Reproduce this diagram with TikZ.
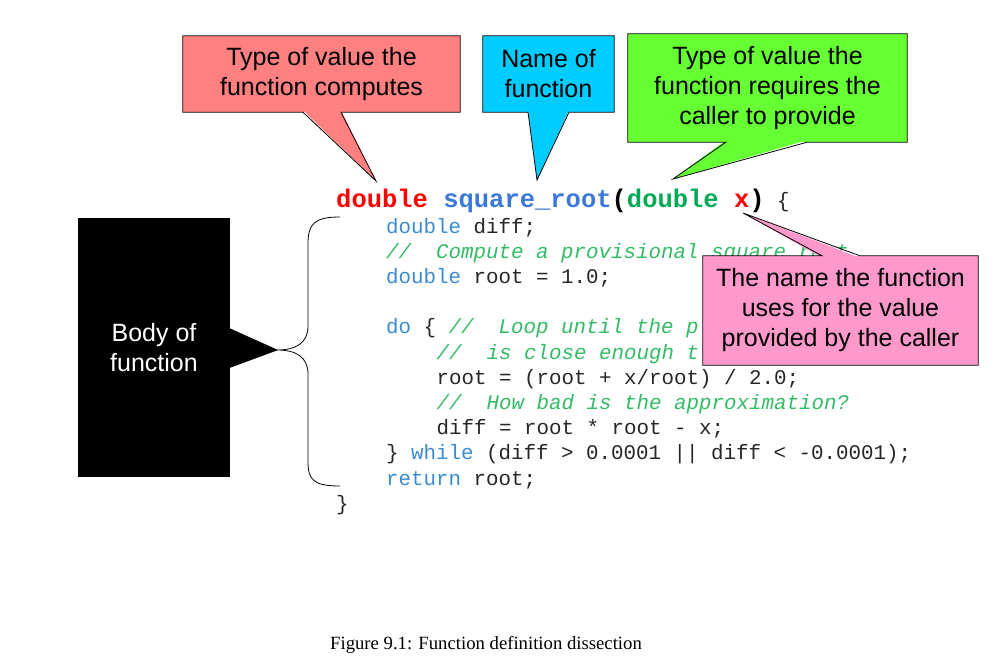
\documentclass[tikz,border=0pt]{standalone}
\usepackage{fontspec}
\setmainfont{Liberation Sans}
\newfontfamily\codefont{Liberation Mono}
\newfontfamily\capfont{Liberation Serif}
\usetikzlibrary{calc}

\definecolor{retred}{HTML}{FF8080}
\definecolor{nameblue}{HTML}{00CCFF}
\definecolor{parmgreen}{HTML}{66FF33}
\definecolor{argpink}{HTML}{FF99CC}
\definecolor{kwblue}{HTML}{3A8BD0}
\definecolor{fnblue}{HTML}{3C78D8}
\definecolor{cmtgreen}{HTML}{33BB66}
\definecolor{typegreen}{HTML}{00AA55}
\definecolor{hdred}{HTML}{FF0000}
\definecolor{idgray}{HTML}{262626}

\newcommand{\kw}[1]{\textcolor{kwblue}{#1}}
\newcommand{\cmt}[1]{\textcolor{cmtgreen}{\itshape #1}}

\begin{document}
\begin{tikzpicture}[
    x=1pt, y=-1pt,
    callbox/.style={rectangle, inner sep=0pt, align=center, font=\fontsize{25}{30}\selectfont},
    tailline/.style={draw=black, line width=0.8pt, line join=miter},
    braceline/.style={draw=black, line width=0.8pt},
    codeline/.style={anchor=base west, inner sep=0pt, text=idgray, font=\codefont\fontsize{20.83}{25}\selectfont}
]
    \useasboundingbox (0,0) rectangle (1008,669);

    % the code
    \node[codeline, font=\codefont\bfseries\fontsize{25.5}{30}\selectfont] (header) at (336,207) {\textcolor{hdred}{double} \textcolor{fnblue}{square\_root}\textcolor{black}{(}\textcolor{typegreen}{double} \textcolor{hdred}{x}\textcolor{black}{)}{\mdseries\fontsize{20.83}{25}\selectfont\ \{}};
    \node[codeline] (l1) at (386,233) {\kw{double} diff;};
    \node[codeline] (l2) at (386,258) {\cmt{//\ \ Compute a provisional square root}};
    \node[codeline] (l3) at (386,283) {\kw{double} root = 1.0;};
    \node[codeline] (l4) at (386,333) {\kw{do} \{ \cmt{//\ \ Loop until the p}};
    \node[codeline] (l5) at (436.5,359) {\cmt{//\ \ is close enough t}};
    \node[codeline] (l6) at (436.5,384) {root = (root + x/root) / 2.0;};
    \node[codeline] (l7) at (436.5,409) {\cmt{//\ \ How bad is the approximation?}};
    \node[codeline] (l8) at (436.5,434) {diff = root * root - x;};
    \node[codeline] (l9) at (386,459) {\} \kw{while} (diff > 0.0001 || diff < -0.0001);};
    \node[codeline] (l10) at (386,485) {\kw{return} root;};
    \node[codeline] (l11) at (336,510) {\}};

    % callouts
    \node[callbox, fill=retred, minimum width=277pt, minimum height=76pt] (rettype) at (321.5,74) {Type of value the\\function computes};
    \coordinate (rettip) at (376,181);
    \fill[retred] ($(rettype.south west)!0.433!(rettype.south east)+(0,-2)$) -- (rettip) -- ($(rettype.south west)!0.570!(rettype.south east)+(0,-2)$) -- cycle;
    \draw[tailline] (rettype.south west) -- ($(rettype.south west)!0.433!(rettype.south east)$) -- (rettip) -- ($(rettype.south west)!0.570!(rettype.south east)$) -- (rettype.south east) -- (rettype.north east) -- (rettype.north west) -- cycle;

    \node[callbox, fill=nameblue, minimum width=131pt, minimum height=76pt] (fnname) at (548.5,74) {Name of\\function};
    \coordinate (fntip) at (537,180);
    \fill[nameblue] ($(fnname.south west)!0.344!(fnname.south east)+(0,-2)$) -- (fntip) -- ($(fnname.south west)!0.656!(fnname.south east)+(0,-2)$) -- cycle;
    \draw[tailline] (fnname.south west) -- ($(fnname.south west)!0.344!(fnname.south east)$) -- (fntip) -- ($(fnname.south west)!0.656!(fnname.south east)$) -- (fnname.south east) -- (fnname.north east) -- (fnname.north west) -- cycle;

    \node[callbox, fill=parmgreen, minimum width=279pt, minimum height=108pt] (parmtype) at (767.5,88) {Type of value the\\function requires the\\caller to provide};
    \coordinate (parmtip) at (673,179);
    \fill[parmgreen] ($(parmtype.south west)!0.351!(parmtype.south east)+(0,-2)$) -- (parmtip) -- ($(parmtype.south west)!0.642!(parmtype.south east)+(0,-2)$) -- cycle;
    \draw[tailline] (parmtype.south west) -- ($(parmtype.south west)!0.351!(parmtype.south east)$) -- (parmtip) -- ($(parmtype.south west)!0.642!(parmtype.south east)$) -- (parmtype.south east) -- (parmtype.north east) -- (parmtype.north west) -- cycle;

    \node[callbox, fill=argpink, minimum width=275pt, minimum height=109pt] (parmname) at (840.5,310.5) {The name the function\\uses for the value\\provided by the caller};
    \coordinate (nametip) at (743,213);
    \fill[argpink] ($(parmname.north west)!0.433!(parmname.north east)+(0,2)$) -- (nametip) -- ($(parmname.north west)!0.571!(parmname.north east)+(0,2)$) -- cycle;
    \draw[tailline] (parmname.north west) -- ($(parmname.north west)!0.433!(parmname.north east)$) -- (nametip) -- ($(parmname.north west)!0.571!(parmname.north east)$) -- (parmname.north east) -- (parmname.south east) -- (parmname.south west) -- cycle;

    % body of the function
    \node[callbox, fill=black, text=white, minimum width=152pt, minimum height=259pt] (body) at (154,347.5) {Body of\\function};
    \coordinate (bracetip) at (277,350);
    \filldraw[tailline, fill=black] ($(body.north east)!0.425!(body.south east)+(-2,0)$) -- (bracetip) -- ($(body.north east)!0.579!(body.south east)+(-2,0)$) -- cycle;
    \draw[braceline] (340,217) .. controls (314,217) and (308,224) .. (308,244) -- (308,326)
        .. controls (308,343) and (296,350) .. (bracetip)
        .. controls (296,350) and (308,357) .. (308,374) -- (308,462)
        .. controls (308,480) and (314,486) .. (340,486);

    \node[anchor=base, inner sep=0pt, font=\capfont\fontsize{18.7}{22}\selectfont] (caption) at (486,649) {Figure 9.1: Function definition dissection};
\end{tikzpicture}
\end{document}
